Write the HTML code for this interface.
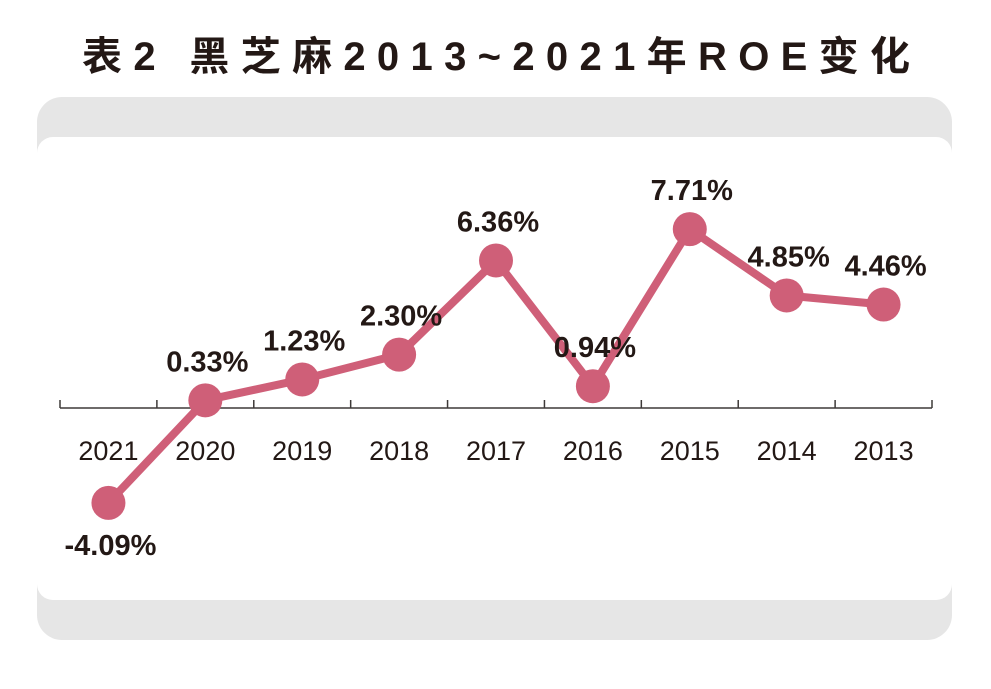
<!DOCTYPE html>
<html><head><meta charset="utf-8"><style>
body{margin:0;width:991px;height:684px;background:#fff;overflow:hidden;font-family:"Liberation Sans","Noto Sans CJK SC",sans-serif}
</style></head><body>
<svg width="991" height="684" xmlns="http://www.w3.org/2000/svg">
<text x="82" y="70" textLength="828" lengthAdjust="spacing" font-size="40" font-weight="bold" fill="#231815" font-family="Liberation Sans, Noto Sans CJK SC, sans-serif">表2  黑芝麻2013~2021年ROE变化</text>
<rect x="37" y="97" width="915" height="543" rx="25" fill="#e6e6e6"/>
<rect x="37" y="137" width="915" height="463" rx="16" fill="#fff"/>
<g id="g"></g>
</svg>
<script>
const years=["2021","2020","2019","2018","2017","2016","2015","2014","2013"];
const roe=[-4.09,0.33,1.23,2.30,6.36,0.94,7.71,4.85,4.46];
const g=document.getElementById('g');
const NS="http://www.w3.org/2000/svg";
const x0=60,x1=932,y0=408,k=23.2;
const step=(x1-x0)/years.length;
const X=i=>x0+step*(i+0.5);
const Y=v=>y0-v*k;
function mk(t,a){const e=document.createElementNS(NS,t);for(const n in a)e.setAttribute(n,a[n]);g.appendChild(e);return e;}
const ax=mk('line',{x1:x0,y1:y0,x2:x1,y2:y0,stroke:'#3e3a39','stroke-width':1.5});


for(let i=0;i<=years.length;i++){const t=mk('line',{x1:x0+step*i,y1:y0,x2:x0+step*i,y2:y0-8,stroke:'#3e3a39','stroke-width':1.5});

}
years.forEach((y,i)=>{const t=mk('text',{x:X(i),y:460,'text-anchor':'middle','font-size':27,fill:'#231815'});t.textContent=y;

});
const line=mk('polyline',{points:roe.map((v,i)=>X(i)+','+Y(v)).join(' '),fill:'none',stroke:'#cf5f78','stroke-width':8,'stroke-linejoin':'round'});


roe.forEach((v,i)=>{const c=mk('circle',{cx:X(i),cy:Y(v),r:17,fill:'#cf5f78'});


const ly=v<0?Y(v)+52:Y(v)-29;
const t=mk('text',{x:X(i)+2,y:ly,'text-anchor':'middle','font-size':29,'font-weight':'bold',fill:'#231815'});
t.textContent=v.toFixed(2)+'%';

});
</script>
</body></html>
